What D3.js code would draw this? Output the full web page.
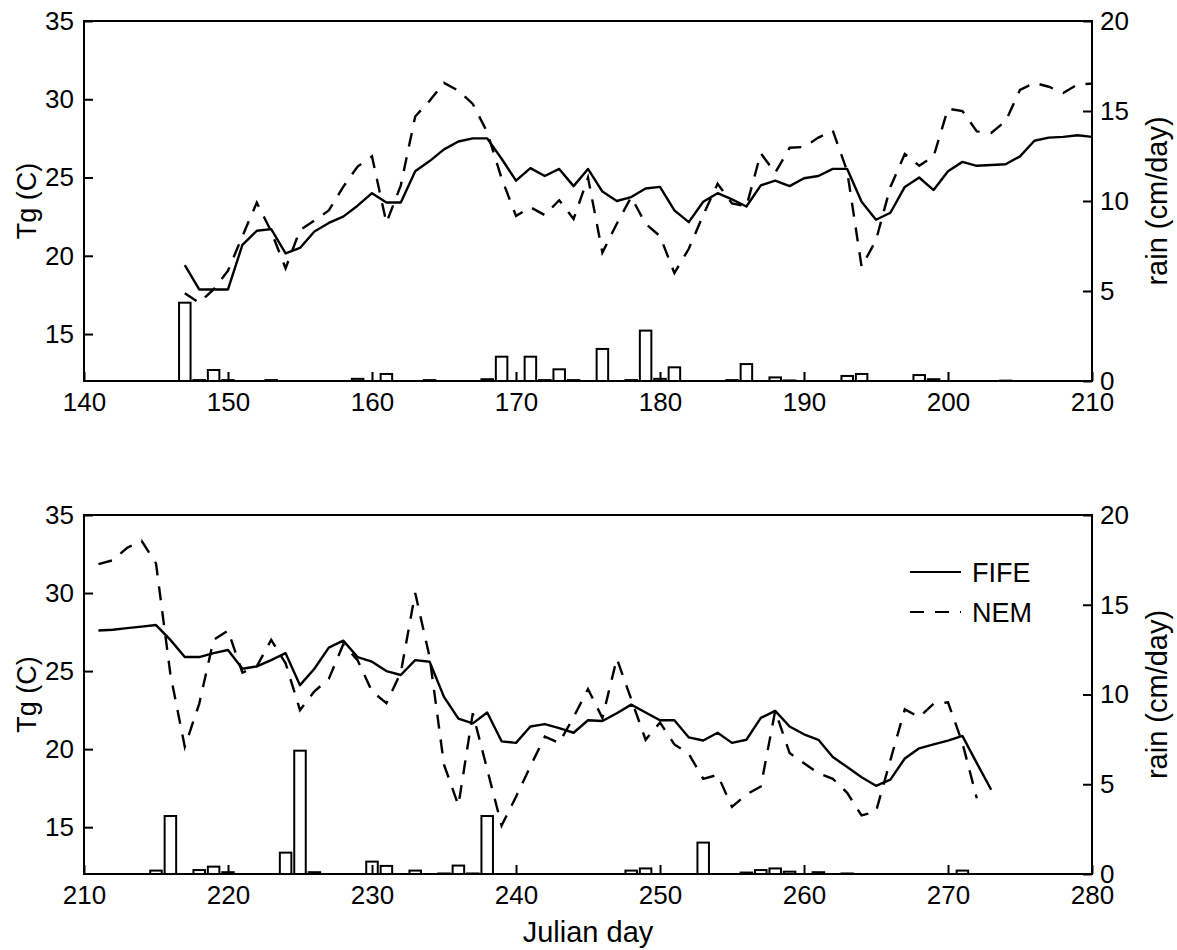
<!DOCTYPE html>
<html>
<head>
<meta charset="utf-8">
<script src="https://cdn.jsdelivr.net/npm/d3@7"></script>
<style>
  html, body { margin: 0; padding: 0; background: #fff; }
  svg { display: block; font-family: "Liberation Sans", Arial, Helvetica, sans-serif; }
</style>
</head>
<body>
<svg id="chart" width="1177" height="950"></svg>
<script>
// Surface temperature Tg (C) from FIFE observations and the NEM model, with daily rain (cm/day)

// ---- upper panel: Julian days 147-210 ----
const fifeTopStart = 147;
const fifeTop = [19.4, 17.85, 17.85, 17.85, 20.7, 21.6, 21.7, 20.15, 20.5, 21.55,
  22.1, 22.5, 23.2, 24.0, 23.4, 23.4, 25.4, 26.05, 26.8, 27.3,
  27.5, 27.5, 26.2, 24.8, 25.6, 25.1, 25.55, 24.45, 25.55, 24.1,
  23.5, 23.75, 24.3, 24.4, 22.9, 22.15, 23.45, 24.0, 23.6, 23.15,
  24.5, 24.8, 24.45, 24.95, 25.1, 25.55, 25.55, 23.45, 22.3, 22.75,
  24.4, 25.0, 24.2, 25.4, 26.0, 25.75, 25.8, 25.85, 26.35, 27.35,
  27.55, 27.6, 27.7, 27.6];
const nemTopStart = 147;
const nemTop = [17.6, 17.0, 17.85, 19.05, 21.25, 23.4, 21.55, 19.2, 21.65, 22.25,
  22.9, 24.4, 25.7, 26.35, 22.1, 24.5, 28.9, 29.9, 31.05, 30.55,
  29.7, 27.9, 24.95, 22.55, 23.1, 22.6, 23.55, 22.35, 25.0, 20.2,
  22.05, 23.75, 22.05, 21.25, 18.9, 20.45, 22.6, 24.6, 23.35, 23.15,
  26.55, 25.3, 26.9, 26.95, 27.55, 28.0, 25.4, 19.3, 21.0, 24.4,
  26.5, 25.75, 26.35, 29.4, 29.25, 27.95, 27.85, 28.6, 30.6, 31.05,
  30.8, 30.4, 30.95, 31.0];
const rainTopDays = [147, 148, 149, 150, 153, 159, 161, 164, 168, 169, 171, 172, 173, 174,
  176, 178, 179, 180, 181, 185, 186, 188, 189, 193, 194, 198, 199, 204];
const rainTop = [4.35, 0.05, 0.61, 0.05, 0.05, 0.12, 0.39, 0.05, 0.1, 1.35, 1.35, 0.05, 0.65, 0.05,
  1.78, 0.05, 2.8, 0.12, 0.76, 0.05, 0.94, 0.2, 0.03, 0.28, 0.39, 0.33, 0.1, 0.02];

// ---- lower panel: Julian days 211-273 ----
const fifeBottomStart = 211;
const fifeBottom = [27.6, 27.65, 27.75, 27.85, 27.95, 27.0, 25.9, 25.9, 26.15, 26.35,
  25.15, 25.3, 25.7, 26.15, 24.1, 25.15, 26.5, 26.95, 25.9, 25.6,
  25.0, 24.75, 25.7, 25.6, 23.35, 21.95, 21.65, 22.35, 20.5, 20.4,
  21.45, 21.6, 21.35, 21.05, 21.85, 21.8, 22.3, 22.85, 22.35, 21.85,
  21.85, 20.75, 20.55, 21.05, 20.4, 20.6, 22.0, 22.45, 21.45, 20.95,
  20.6, 19.5, 18.85, 18.2, 17.65, 18.05, 19.4, 20.05, 20.3, 20.55,
  20.85, 19.1, 17.4];
const nemBottomStart = 211;
const nemBottom = [31.85, 32.1, 32.9, 33.35, 31.9, 24.8, 20.15, 22.9, 27.0, 27.6,
  24.9, 25.3, 27.0, 25.5, 22.5, 23.7, 24.5, 26.7, 25.7, 23.7,
  22.95, 24.9, 30.0, 25.9, 19.0, 16.4, 22.3, 18.7, 15.1, 16.95,
  18.9, 20.8, 20.4, 22.05, 23.85, 22.0, 25.8, 23.2, 20.6, 21.7,
  20.3, 19.7, 18.1, 18.35, 16.3, 17.1, 17.6, 22.45, 19.75, 19.1,
  18.45, 18.1, 17.2, 15.75, 16.0, 19.3, 22.55, 22.05, 22.9, 23.0,
  20.4, 16.85];
const rainBottomDays = [215, 216, 218, 219, 220, 224, 225, 226, 230, 231, 233, 235, 236, 237, 238,
  248, 249, 253, 256, 257, 258, 259, 261, 263, 271];
const rainBottom = [0.19, 3.23, 0.22, 0.41, 0.1, 1.19, 6.87, 0.1, 0.69, 0.45, 0.19, 0.03, 0.47, 0.03, 3.23,
  0.19, 0.31, 1.75, 0.08, 0.22, 0.31, 0.13, 0.1, 0.03, 0.19];

// ---- axes ----
const tempTicks = [15, 20, 25, 30, 35];
const rainTicks = [0, 5, 10, 15, 20];
const xTicksTop = [140, 150, 160, 170, 180, 190, 200, 210];
const xTicksBottom = [210, 220, 230, 240, 250, 260, 270, 280];
const legendLabels = ["FIFE", "NEM"];

const svg = d3.select("#chart");
const left = 84, right = 1092;
const FONT = 26;
const DASH = "14,11";

function series(start, values) {
  return values.map((v, i) => ({ day: start + i, v }));
}

function panel(cfg) {
  const x = d3.scaleLinear().domain(cfg.xDomain).range([left, right]);
  const yT = d3.scaleLinear().domain([12, 35]).range([cfg.bottom, cfg.top]);
  const yR = d3.scaleLinear().domain([0, 20]).range([cfg.bottom, cfg.top]);
  const g = svg.append("g");

  // rain bars (open rectangles), 0.8 day wide
  const bw = (x(1) - x(0)) * 0.8;
  g.append("g").selectAll("rect")
    .data(cfg.rainDays.map((d, i) => ({ day: d, r: cfg.rain[i] })))
    .join("rect")
    .attr("x", d => x(d.day) - bw / 2)
    .attr("y", d => yR(d.r))
    .attr("width", bw)
    .attr("height", d => yR(0) - yR(d.r))
    .attr("fill", "#fff")
    .attr("stroke", "#000")
    .attr("stroke-width", 2);

  const line = d3.line().x(d => x(d.day)).y(d => yT(d.v));
  g.append("path")
    .datum(series(cfg.fifeStart, cfg.fife))
    .attr("d", line)
    .attr("fill", "none").attr("stroke", "#000")
    .attr("stroke-width", 2.4).attr("stroke-linejoin", "round");
  g.append("path")
    .datum(series(cfg.nemStart, cfg.nem))
    .attr("d", line)
    .attr("fill", "none").attr("stroke", "#000")
    .attr("stroke-width", 2.4).attr("stroke-dasharray", DASH);

  // axes with inward ticks
  const ax = g.append("g").attr("transform", `translate(0,${cfg.bottom})`)
    .call(d3.axisBottom(x).tickValues(cfg.xTicks).tickFormat(d3.format("d"))
      .tickSizeInner(-9).tickSizeOuter(0).tickPadding(12));
  const al = g.append("g").attr("transform", `translate(${left},0)`)
    .call(d3.axisLeft(yT).tickValues(tempTicks).tickSizeInner(-9).tickSizeOuter(0).tickPadding(10));
  const ar = g.append("g").attr("transform", `translate(${right},0)`)
    .call(d3.axisRight(yR).tickValues(rainTicks).tickSizeInner(-9).tickSizeOuter(0).tickPadding(8));
  [ax, al, ar].forEach(a => {
    a.select(".domain").remove();
    a.selectAll(".tick line").attr("stroke", "#000").attr("stroke-width", 2);
    a.selectAll(".tick text").attr("fill", "#000").style("font-size", FONT + "px")
      .style("font-family", "'Liberation Sans', Arial, Helvetica, sans-serif");
  });

  // frame
  g.append("rect")
    .attr("x", left).attr("y", cfg.top)
    .attr("width", right - left).attr("height", cfg.bottom - cfg.top)
    .attr("fill", "none").attr("stroke", "#000").attr("stroke-width", 2);

  const midY = (cfg.top + cfg.bottom) / 2;
  g.append("text")
    .attr("transform", `translate(36,${midY}) rotate(-90)`)
    .attr("text-anchor", "middle").style("font-size", "27px")
    .text("Tg (C)");
  g.append("text")
    .attr("transform", `translate(1167,${midY}) rotate(-90)`)
    .attr("text-anchor", "middle").style("font-size", "29px")
    .text("rain (cm/day)");
  return { x, yT, g };
}

panel({
  top: 21, bottom: 381, xDomain: [140, 210], xTicks: xTicksTop,
  fifeStart: fifeTopStart, fife: fifeTop, nemStart: nemTopStart, nem: nemTop,
  rainDays: rainTopDays, rain: rainTop
});
const low = panel({
  top: 515, bottom: 874, xDomain: [210, 280], xTicks: xTicksBottom,
  fifeStart: fifeBottomStart, fife: fifeBottom, nemStart: nemBottomStart, nem: nemBottom,
  rainDays: rainBottomDays, rain: rainBottom
});

// x-axis title
svg.append("text")
  .attr("x", (left + right) / 2).attr("y", 942)
  .attr("text-anchor", "middle").style("font-size", "29px")
  .text("Julian day");

// legend
const leg = low.g.append("g");
legendLabels.forEach((lab, i) => {
  const yy = 572 + i * 40;
  leg.append("line")
    .attr("x1", 910).attr("x2", 961).attr("y1", yy).attr("y2", yy)
    .attr("stroke", "#000").attr("stroke-width", 2)
    .attr("stroke-dasharray", i === 1 ? DASH : null);
  leg.append("text")
    .attr("x", 972).attr("y", yy).attr("dy", "0.36em")
    .style("font-size", "27px")
    .text(lab);
});
</script>
</body>
</html>
